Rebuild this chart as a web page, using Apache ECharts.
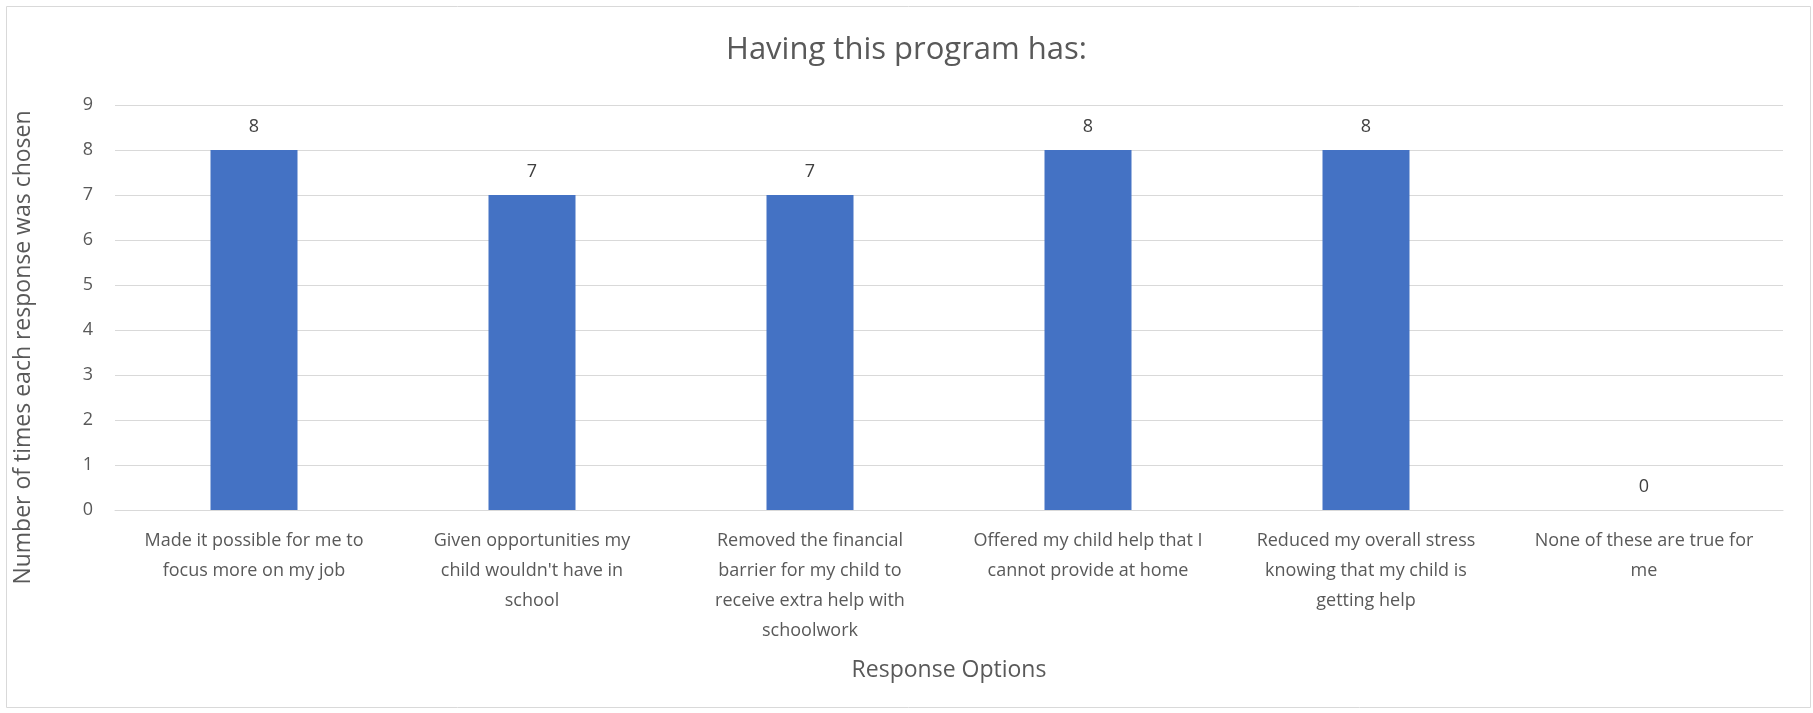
<!DOCTYPE html>
<html><head><meta charset="utf-8">
<script src="https://cdn.jsdelivr.net/npm/echarts@6/dist/echarts.min.js"></script>
<style>html,body{margin:0;padding:0;background:#fff}#c{width:1813px;height:713px}</style>
</head><body><div id="c"></div>
<script>
const categories = [
  "Made it possible for me to\nfocus more on my job",
  "Given opportunities my\nchild wouldn't have in\nschool",
  "Removed the financial\nbarrier for my child to\nreceive extra help with\nschoolwork",
  "Offered my child help that I\ncannot provide at home",
  "Reduced my overall stress\nknowing that my child is\ngetting help",
  "None of these are true for\nme"
];
const values = [8, 7, 7, 8, 8, 0];
const titleText = "Having this program has:";
const xTitle = "Response Options";
const yTitle = "Number of times each response was chosen";

const FONT = "'Open Sans', 'Noto Sans', sans-serif";
const chart = echarts.init(document.getElementById('c'), null, {renderer: 'canvas'});
chart.setOption({
  animation: false,
  textStyle: {fontFamily: FONT},
  graphic: [{type: 'rect', shape: {x: 6.5, y: 6.5, width: 1804, height: 701}, style: {fill: 'none', stroke: '#d9d9d9', lineWidth: 1}, silent: true}],
  title: {text: titleText, left: 'center', top: 30, textStyle: {fontFamily: FONT, fontSize: 31, fontWeight: 'normal', color: '#595959'}},
  grid: {left: 115, right: 30, top: 105, bottom: 203},
  xAxis: {
    type: 'category', data: categories,
    name: xTitle, nameLocation: 'middle', nameGap: 149,
    nameTextStyle: {fontFamily: FONT, fontSize: 23, color: '#595959'},
    axisLine: {lineStyle: {color: '#d9d9d9', width: 1}},
    axisTick: {show: false},
    axisLabel: {interval: 0, color: '#595959', fontFamily: FONT, fontSize: 18, lineHeight: 30, margin: 16, verticalAlign: 'top'}
  },
  yAxis: {
    type: 'value', min: 0, max: 9, interval: 1,
    name: yTitle, nameLocation: 'middle', nameGap: 80,
    nameTextStyle: {fontFamily: FONT, fontSize: 23, color: '#595959', padding: [0, 80, 0, 0]},
    axisLine: {show: false}, axisTick: {show: false},
    axisLabel: {color: '#595959', fontFamily: FONT, fontSize: 18, margin: 22},
    splitLine: {lineStyle: {color: '#d9d9d9', width: 1}}
  },
  series: [{
    type: 'bar', data: values, barWidth: 87,
    itemStyle: {color: '#4472c4'},
    label: {show: true, position: 'top', distance: 14, color: '#404040', fontFamily: FONT, fontSize: 18}
  }]
});
</script></body></html>
